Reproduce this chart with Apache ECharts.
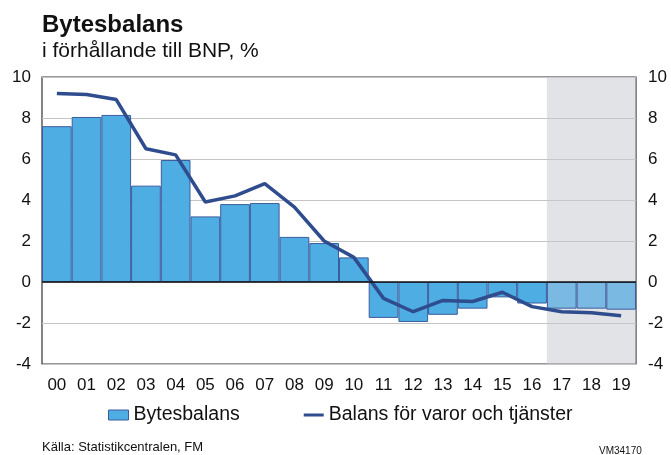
<!DOCTYPE html>
<html>
<head>
<meta charset="utf-8">
<script src="https://cdn.jsdelivr.net/npm/echarts@6/dist/echarts.min.js"></script>
<style>
  html, body { margin: 0; padding: 0; background: #fff; }
  #chart { width: 671px; height: 455px; }
</style>
</head>
<body>
<div id="chart"></div>
<script>
  const years = ['00','01','02','03','04','05','06','07','08','09','10','11','12','13','14','15','16','17','18','19'];
  const bytesbalans = [7.6, 8.05, 8.15, 4.7, 5.95, 3.2, 3.8, 3.85, 2.2, 1.9, 1.2, -1.75, -1.95, -1.6, -1.3, -0.75, -1.05, -1.3, -1.3, -1.35];
  const varorTjanster = [9.2, 9.15, 8.9, 6.5, 6.2, 3.9, 4.2, 4.8, 3.65, 2.0, 1.2, -0.8, -1.45, -0.9, -0.95, -0.5, -1.2, -1.45, -1.5, -1.65];
  const forecastFrom = 17;

  const chart = echarts.init(document.getElementById('chart'));
  const font = 'Liberation Sans, Arial, sans-serif';
  const barBlue = '#4eade3', barLight = '#7ab9e1', lineBlue = '#2f4d8e';
  const valueAxis = (pos) => ({
    type: 'value', position: pos, min: -4, max: 10, interval: 2,
    axisLine: { show: false }, axisTick: { show: false },
    axisLabel: { color: '#111', fontSize: 17, fontFamily: font, margin: pos === 'left' ? 11 : 12 },
    splitLine: { show: pos === 'left', lineStyle: { color: '#c4c4c4', width: 1 } }
  });

  const option = {
    animation: false,
    textStyle: { fontFamily: font },
    title: [
      { text: 'Bytesbalans', left: 37, top: 8, textStyle: { fontSize: 24, fontWeight: 'bold', color: '#111', fontFamily: font } },
      { text: 'i förhållande till BNP, %', left: 37, top: 36, textStyle: { fontSize: 21, fontWeight: 'normal', color: '#111', fontFamily: font } },
      { text: 'Källa: Statistikcentralen, FM', left: 37, top: 436, textStyle: { fontSize: 13, fontWeight: 'normal', color: '#111', fontFamily: font } },
      { text: 'VM34170', left: 594, top: 441, textStyle: { fontSize: 10, fontWeight: 'normal', color: '#111', fontFamily: font } }
    ],
    grid: { left: 42, right: 35, top: 77, bottom: 91, show: true, borderColor: '#333', borderWidth: 1.2, backgroundColor: 'transparent' },
    legend: {
      left: 103, top: 400, itemGap: 64, itemWidth: 20, itemHeight: 10,
      textStyle: { fontSize: 19.5, color: '#111', fontFamily: font },
      data: [
        { name: 'Bytesbalans', icon: 'rect', itemStyle: { color: barBlue, borderColor: '#3d5c9e', borderWidth: 1 } },
        { name: 'Balans för varor och tjänster', icon: 'path://M0,0L20,0L20,3L0,3Z', itemStyle: { color: lineBlue } }
      ]
    },
    xAxis: [
      {
        type: 'category', data: years, position: 'bottom',
        axisLine: { show: false }, axisTick: { show: false },
        axisLabel: { color: '#111', fontSize: 17, fontFamily: font, margin: 13 }
      },
      { type: 'value', min: 0, max: years.length, show: false }
    ],
    yAxis: [valueAxis('left'), valueAxis('right')],
    series: [
      {
        name: 'shade', type: 'line', xAxisIndex: 1, yAxisIndex: 0, data: [], silent: true,
        markArea: {
          silent: true,
          itemStyle: { color: 'rgba(198,200,205,0.5)' },
          data: [[{ xAxis: forecastFrom }, { xAxis: years.length }]]
        }
      },
      {
        name: 'Bytesbalans', type: 'bar', data: bytesbalans, barCategoryGap: '0%',
        itemStyle: {
          color: (p) => p.dataIndex >= forecastFrom ? barLight : barBlue,
          borderColor: '#3d5c9e', borderWidth: 1
        },
        markLine: {
          silent: true, symbol: 'none', label: { show: false },
          lineStyle: { color: '#111', width: 1.5, type: 'solid' },
          data: [{ yAxis: 0 }]
        }
      },
      {
        name: 'Balans för varor och tjänster', type: 'line', data: varorTjanster,
        symbol: 'none', lineStyle: { color: lineBlue, width: 3.5 }, itemStyle: { color: lineBlue }
      }
    ]
  };
  chart.setOption(option);
</script>
</body>
</html>
